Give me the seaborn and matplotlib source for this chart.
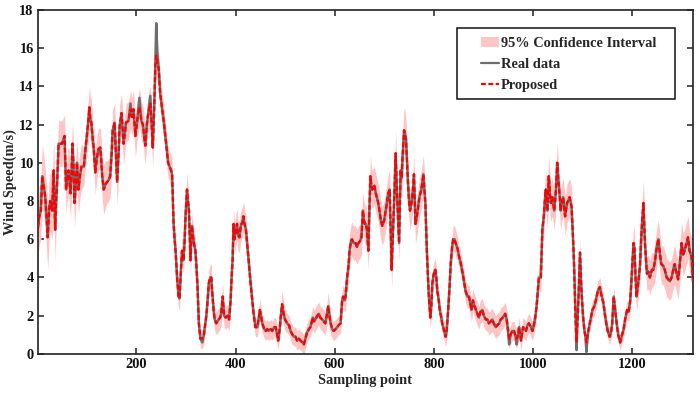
import numpy as np
import pandas as pd
import matplotlib
matplotlib.use("Agg")
import matplotlib.pyplot as plt
from matplotlib.patches import Patch, Rectangle
from matplotlib.lines import Line2D
import seaborn as sns

# ---------------- data ----------------
sample_idx = [
    0, 4, 7, 10, 13, 16, 19, 21, 24, 26,
    30, 33, 36, 38, 40, 43, 47, 50, 55, 58,
    61, 63, 67, 69, 71, 73, 75, 78, 80, 83,
    86, 89, 94, 97, 100, 103, 105, 107, 109, 112,
    114, 117, 120, 123, 127, 129, 131, 134, 138, 141,
    144, 147, 150, 152, 156, 158, 161, 164, 166, 170,
    172, 174, 177, 179, 184, 188, 191, 194, 198, 202,
    206, 210, 213, 216, 218, 221, 224, 228, 231, 233,
    236, 238, 240, 242, 245, 248, 251, 255, 258, 260,
    264, 267, 270, 272, 275, 277, 279, 282, 285, 287,
    289, 292, 295, 297, 299, 302, 304, 306, 309, 312,
    314, 316, 319, 321, 323, 326, 329, 333, 336, 338,
    341, 343, 346, 349, 351, 353, 356, 358, 361, 366,
    369, 371, 374, 377, 380, 384, 387, 390, 392, 394,
    396, 398, 400, 403, 405, 408, 410, 412, 414, 416,
    418, 421, 424, 427, 430, 433, 436, 440, 444, 447,
    449, 452, 454, 458, 461, 464, 467, 471, 474, 478,
    481, 484, 486, 489, 491, 494, 497, 500, 504, 508,
    511, 515, 518, 521, 524, 528, 531, 535, 538, 541,
    544, 548, 551, 556, 558, 561, 565, 568, 571, 575,
    578, 581, 584, 587, 590, 592, 595, 598, 602, 605,
    608, 612, 615, 617, 620, 622, 625, 628, 630, 633,
    635, 638, 642, 645, 648, 651, 654, 657, 659, 661,
    663, 665, 668, 670, 672, 674, 676, 680, 683, 686,
    688, 691, 693, 696, 700, 703, 706, 708, 711, 713,
    715, 717, 720, 723, 726, 728, 730, 733, 735, 737,
    740, 742, 744, 746, 748, 750, 752, 755, 758, 760,
    763, 766, 769, 771, 775, 777, 779, 781, 783, 786,
    788, 790, 793, 795, 797, 800, 803, 805, 807, 810,
    812, 815, 817, 820, 824, 826, 829, 832, 834, 837,
    839, 842, 844, 848, 851, 854, 857, 861, 864, 868,
    871, 874, 876, 879, 881, 885, 888, 891, 894, 898,
    901, 905, 908, 911, 915, 918, 921, 925, 928, 932,
    935, 939, 944, 947, 949, 952, 955, 958, 962, 965,
    967, 970, 972, 976, 980, 983, 986, 989, 992, 996,
    999, 1002, 1004, 1007, 1009, 1012, 1016, 1019, 1022, 1024,
    1026, 1029, 1032, 1034, 1036, 1039, 1043, 1046, 1049, 1051,
    1053, 1056, 1058, 1061, 1063, 1065, 1069, 1071, 1074, 1078,
    1081, 1083, 1086, 1088, 1090, 1092, 1095, 1098, 1101, 1104,
    1106, 1108, 1111, 1114, 1117, 1120, 1124, 1127, 1131, 1135,
    1138, 1142, 1145, 1148, 1151, 1155, 1158, 1160, 1163, 1166,
    1169, 1172, 1176, 1179, 1183, 1186, 1190, 1193, 1196, 1198,
    1200, 1203, 1205, 1207, 1209, 1212, 1216, 1218, 1220, 1223,
    1226, 1230, 1233, 1236, 1240, 1243, 1246, 1250, 1253, 1256,
    1259, 1263, 1266, 1270, 1273, 1276, 1280, 1283, 1286, 1290,
    1293, 1296, 1300, 1303, 1306, 1310, 1313, 1316, 1320, 1323,
]

real_speed = [
    6.3, 7.2, 7.5, 9.3, 8.8, 8.2, 7.0, 6.1, 7.6, 8.0,
    7.5, 9.6, 6.5, 8.0, 9.0, 11.0, 11.0, 11.0, 11.4, 8.6,
    9.4, 9.6, 8.4, 9.5, 11.0, 9.8, 7.9, 9.0, 10.0, 8.6,
    9.3, 9.8, 9.8, 10.7, 11.4, 12.2, 12.9, 12.3, 12.1, 11.2,
    10.7, 9.5, 10.2, 10.7, 10.8, 10.1, 9.3, 8.6, 8.9, 9.0,
    9.1, 9.3, 10.5, 11.7, 12.1, 10.8, 9.0, 10.5, 11.9, 12.6,
    11.8, 11.0, 11.6, 12.1, 12.2, 13.1, 12.4, 12.8, 11.4, 12.3,
    13.4, 12.2, 12.0, 11.3, 10.9, 12.0, 12.6, 13.5, 11.8, 10.8,
    13.0, 15.0, 17.3, 15.8, 14.9, 13.6, 13.0, 12.2, 11.5, 11.0,
    10.0, 9.8, 9.6, 9.4, 6.8, 6.0, 5.4, 4.0, 3.0, 2.9,
    4.0, 5.4, 4.9, 5.8, 7.2, 8.6, 8.0, 7.5, 4.9, 6.7,
    6.2, 5.8, 5.4, 4.6, 3.7, 1.6, 0.8, 0.6, 1.0, 1.4,
    2.0, 2.6, 3.7, 4.0, 4.0, 3.2, 2.2, 1.8, 1.6, 1.8,
    1.9, 2.1, 3.0, 2.0, 1.9, 2.0, 1.8, 2.8, 4.0, 4.9,
    6.8, 6.0, 6.4, 6.8, 6.2, 6.1, 6.6, 6.8, 6.9, 7.2,
    6.8, 6.5, 5.6, 4.7, 3.8, 3.0, 2.2, 1.4, 1.4, 1.9,
    2.3, 1.9, 1.6, 1.3, 1.2, 1.3, 1.2, 1.3, 1.2, 1.4,
    1.4, 1.0, 0.7, 1.3, 1.9, 2.6, 2.1, 1.8, 1.6, 1.5,
    1.2, 1.0, 0.9, 0.9, 0.7, 0.8, 0.7, 0.6, 0.5, 0.8,
    1.1, 1.3, 1.4, 1.9, 1.7, 1.8, 2.0, 2.1, 1.9, 1.8,
    1.7, 1.6, 2.0, 2.5, 1.9, 1.6, 1.3, 1.2, 1.3, 1.4,
    1.5, 1.6, 2.8, 3.0, 2.8, 3.0, 4.0, 4.6, 5.4, 5.9,
    6.0, 5.8, 5.8, 5.6, 5.8, 5.9, 6.1, 7.5, 7.0, 6.8,
    6.8, 6.5, 5.4, 7.5, 9.3, 8.8, 8.6, 8.8, 8.4, 8.1,
    7.9, 7.4, 7.0, 6.7, 7.0, 7.5, 8.0, 8.4, 8.6, 6.5,
    4.4, 6.0, 8.0, 10.5, 8.2, 7.0, 5.8, 9.6, 9.2, 10.3,
    11.7, 11.5, 11.2, 10.0, 8.9, 8.0, 7.5, 7.9, 8.6, 9.4,
    6.8, 7.2, 7.8, 8.2, 8.6, 9.0, 9.4, 8.6, 7.9, 5.4,
    4.2, 3.0, 1.9, 2.5, 3.7, 4.2, 4.4, 4.0, 3.3, 2.8,
    2.3, 1.9, 1.6, 1.3, 0.9, 1.2, 2.3, 3.6, 4.7, 5.6,
    6.0, 6.0, 5.8, 5.5, 5.1, 4.8, 4.4, 3.8, 3.3, 3.0,
    3.0, 2.6, 2.3, 2.8, 2.6, 2.3, 2.1, 1.9, 2.2, 2.3,
    2.0, 1.8, 1.8, 1.6, 1.7, 1.8, 1.6, 1.4, 1.5, 1.6,
    1.8, 1.9, 2.1, 1.8, 1.4, 0.5, 1.0, 1.2, 1.2, 0.9,
    0.5, 1.0, 1.4, 0.7, 1.4, 1.3, 1.2, 1.5, 1.6, 1.4,
    1.2, 1.5, 1.8, 2.4, 3.0, 4.0, 4.0, 6.5, 7.2, 8.0,
    8.6, 7.5, 9.3, 8.5, 7.9, 8.2, 7.5, 8.4, 10.0, 9.2,
    8.6, 7.5, 7.9, 8.2, 7.7, 7.2, 7.9, 8.0, 8.2, 7.7,
    6.0, 4.7, 1.9, 0.2, 1.8, 3.0, 5.3, 3.3, 2.0, 1.2,
    0.9, 0.1, 1.1, 1.5, 1.9, 2.3, 2.5, 2.8, 3.3, 3.5,
    3.1, 2.7, 2.1, 1.6, 1.2, 0.9, 1.2, 1.6, 3.0, 2.3,
    1.6, 1.0, 0.6, 0.9, 1.3, 1.8, 2.3, 2.2, 2.7, 3.5,
    4.4, 5.8, 5.5, 4.0, 3.0, 3.6, 4.6, 5.8, 6.8, 7.9,
    5.8, 4.2, 4.3, 4.0, 4.4, 4.4, 4.8, 5.6, 6.0, 5.3,
    4.7, 4.6, 4.4, 4.0, 3.9, 3.8, 4.0, 4.4, 4.7, 4.2,
    3.9, 4.6, 5.8, 5.2, 5.4, 5.8, 6.1, 5.4, 5.1, 3.8,
]

# samples where the proposed model departs visibly from the real data
proposed_diff_idx = [188, 206, 228, 240, 242, 333, 952, 967, 1088, 1108]
proposed_diff_val = [12.8, 12.9, 13.1, 15.6, 15.3, 0.8, 0.8, 0.8, 0.6, 0.6]

ci_half = [
    1.4, 1.5, 1.5, 1.6, 1.6, 1.5, 1.7, 1.7, 1.6, 1.6,
    1.5, 1.7, 1.6, 1.5, 1.3, 1.2, 1.2, 1.2, 1.1, 1.3,
    1.3, 1.2, 1.3, 1.3, 1.2, 1.2, 1.3, 1.3, 1.2, 1.3,
    1.2, 1.2, 1.0, 1.0, 1.1, 1.1, 1.1, 1.2, 1.2, 1.1,
    1.1, 1.2, 1.1, 1.1, 1.0, 1.1, 1.2, 1.3, 1.2, 1.1,
    1.1, 1.1, 1.0, 1.1, 1.0, 1.1, 1.2, 1.1, 1.1, 1.0,
    1.0, 1.1, 1.0, 1.0, 1.0, 1.0, 1.0, 1.0, 1.1, 1.0,
    1.0, 1.0, 1.0, 1.0, 1.0, 1.0, 1.0, 0.9, 1.0, 1.0,
    1.0, 1.0, 1.2, 1.0, 0.9, 0.9, 0.9, 0.9, 0.8, 0.8,
    0.8, 0.8, 0.8, 0.8, 0.8, 0.8, 0.8, 0.7, 0.6, 0.6,
    0.7, 0.7, 0.7, 0.7, 0.8, 0.9, 0.8, 0.8, 0.8, 0.7,
    0.7, 0.7, 0.7, 0.6, 0.6, 0.5, 0.5, 0.5, 0.5, 0.5,
    0.5, 0.6, 0.7, 0.7, 0.7, 0.6, 0.6, 0.6, 0.6, 0.6,
    0.6, 0.6, 0.7, 0.6, 0.6, 0.6, 0.6, 0.6, 0.7, 0.8,
    0.8, 0.8, 0.8, 0.8, 0.8, 0.8, 0.8, 0.8, 0.8, 0.8,
    0.8, 0.8, 0.7, 0.7, 0.6, 0.6, 0.5, 0.5, 0.5, 0.5,
    0.6, 0.5, 0.5, 0.5, 0.5, 0.5, 0.5, 0.5, 0.5, 0.5,
    0.5, 0.5, 0.5, 0.5, 0.6, 0.7, 0.6, 0.6, 0.5, 0.5,
    0.5, 0.5, 0.5, 0.5, 0.5, 0.5, 0.5, 0.5, 0.5, 0.5,
    0.5, 0.5, 0.5, 0.6, 0.6, 0.6, 0.6, 0.6, 0.6, 0.6,
    0.6, 0.6, 0.6, 0.7, 0.6, 0.6, 0.5, 0.5, 0.5, 0.5,
    0.5, 0.5, 0.6, 0.6, 0.6, 0.7, 0.8, 0.9, 0.9, 0.9,
    0.9, 0.9, 0.9, 0.9, 0.9, 0.9, 0.9, 1.0, 1.0, 1.0,
    1.0, 1.0, 1.0, 1.0, 1.1, 1.0, 1.0, 1.0, 1.0, 1.0,
    1.0, 1.0, 1.0, 1.0, 1.0, 1.0, 1.0, 1.0, 1.0, 1.0,
    1.0, 1.0, 1.1, 1.2, 1.1, 1.0, 1.0, 1.1, 1.1, 1.2,
    1.2, 1.2, 1.1, 1.1, 1.0, 1.0, 1.0, 1.0, 1.0, 1.0,
    1.0, 1.0, 1.0, 1.0, 1.0, 1.0, 1.0, 1.0, 1.0, 0.9,
    0.8, 0.7, 0.6, 0.6, 0.6, 0.6, 0.6, 0.6, 0.6, 0.6,
    0.5, 0.5, 0.5, 0.5, 0.5, 0.5, 0.5, 0.6, 0.6, 0.6,
    0.7, 0.7, 0.7, 0.6, 0.6, 0.6, 0.6, 0.6, 0.6, 0.6,
    0.6, 0.6, 0.6, 0.6, 0.6, 0.6, 0.6, 0.6, 0.6, 0.6,
    0.6, 0.6, 0.6, 0.6, 0.6, 0.6, 0.6, 0.6, 0.6, 0.6,
    0.6, 0.6, 0.6, 0.6, 0.6, 0.5, 0.5, 0.5, 0.5, 0.5,
    0.5, 0.5, 0.5, 0.5, 0.5, 0.5, 0.5, 0.5, 0.5, 0.5,
    0.5, 0.5, 0.5, 0.6, 0.6, 0.7, 0.8, 0.9, 1.0, 1.0,
    1.0, 1.0, 1.1, 1.0, 1.0, 1.0, 1.0, 1.0, 1.1, 1.0,
    1.0, 1.0, 1.0, 1.0, 1.0, 1.0, 1.0, 1.0, 1.0, 1.0,
    0.9, 0.8, 0.6, 0.5, 0.5, 0.6, 0.6, 0.5, 0.5, 0.4,
    0.4, 0.4, 0.4, 0.4, 0.5, 0.5, 0.5, 0.5, 0.5, 0.5,
    0.5, 0.5, 0.5, 0.5, 0.4, 0.4, 0.4, 0.4, 0.5, 0.5,
    0.4, 0.4, 0.4, 0.4, 0.5, 0.5, 0.5, 0.5, 0.6, 0.7,
    0.8, 0.9, 0.9, 0.8, 0.8, 0.8, 0.9, 1.0, 1.1, 1.2,
    1.0, 0.9, 0.9, 0.9, 0.9, 0.9, 1.0, 1.0, 1.0, 1.0,
    1.0, 1.0, 1.0, 1.0, 1.0, 1.0, 1.0, 1.0, 1.0, 1.0,
    1.0, 1.0, 1.1, 1.1, 1.1, 1.1, 1.1, 1.1, 1.0, 1.0,
]

y_ticks = [0, 2, 4, 6, 8, 10, 12, 14, 16, 18]
x_ticks = [200, 400, 600, 800, 1000, 1200]

# ---------------- build table ----------------
df = pd.DataFrame({"sample": sample_idx, "real": real_speed, "ci": ci_half})
df["proposed"] = df["real"]
for s, v in zip(proposed_diff_idx, proposed_diff_val):
    df.loc[df["sample"] == s, "proposed"] = v
df["lower"] = (df["proposed"] - df["ci"]).clip(lower=0)
df["upper"] = df["proposed"] + df["ci"]

# ---------------- style ----------------
sns.set_style("ticks")
plt.rcParams["font.family"] = ["Liberation Serif", "DejaVu Serif"]
plt.rcParams["font.weight"] = "bold"
plt.rcParams["axes.labelweight"] = "bold"

FS = 10.4
W, H = 700, 395

fig = plt.figure(figsize=(7.0, 3.95), dpi=100)
ax = fig.add_axes([0.054, 0.104, 0.936, 0.871])

band_color = "#ffc4c4"
ax.fill_between(df["sample"], df["lower"], df["upper"], color=band_color,
                linewidth=0, zorder=1)
sns.lineplot(data=df, x="sample", y="real", ax=ax, color="#6e6e6e",
             linewidth=1.8, estimator=None, zorder=2)
sns.lineplot(data=df, x="sample", y="proposed", ax=ax, color="#ff0000",
             linewidth=1.6, linestyle=(0, (2.2, 1.1)), estimator=None, zorder=3)

ax.set_xlim(1, 1323)
ax.set_ylim(0, 18)
ax.set_xticks(x_ticks)
ax.set_yticks(y_ticks)
ax.set_xticklabels([str(t) for t in x_ticks], fontsize=FS, fontweight="bold")
ax.set_yticklabels([str(t) for t in y_ticks], fontsize=FS, fontweight="bold")
ax.tick_params(direction="in", top=True, right=True, length=4, width=1.1,
               colors="#222222", labelcolor="#111111", pad=3)
for sp in ax.spines.values():
    sp.set_visible(True)
    sp.set_linewidth(1.2)
    sp.set_color("#222222")

ax.set_xlabel("Sampling point", fontsize=FS, fontweight="bold", labelpad=2)
ax.set_ylabel("Wind Speed(m/s)", fontsize=FS, fontweight="bold", labelpad=1.5)

handles = [
    Patch(facecolor=band_color, edgecolor="none", label="95% Confidence Interval"),
    Line2D([0], [0], color="#6e6e6e", lw=1.6, label="Real data"),
    Line2D([0], [0], color="#ff0000", lw=1.6, linestyle=(0, (2.2, 1.1)), label="Proposed"),
]
# legend contents (frameless) + MATLAB-like box drawn separately
leg = ax.legend(handles=handles, loc="center left",
                bbox_to_anchor=(481 / W, 1 - 64.5 / H),
                bbox_transform=fig.transFigure,
                borderaxespad=0, borderpad=0, frameon=False,
                prop={"weight": "bold", "size": FS},
                handlelength=1.25, handletextpad=0.12, labelspacing=0.55)
box = Rectangle((457 / W, 1 - 99 / H), 218 / W, 71 / H, transform=fig.transFigure,
                facecolor="white", edgecolor="#111111", linewidth=1.1, zorder=4)
fig.add_artist(box)
leg.set_zorder(5)
fig.add_artist(leg)

fig.savefig("out.png", dpi=100)
